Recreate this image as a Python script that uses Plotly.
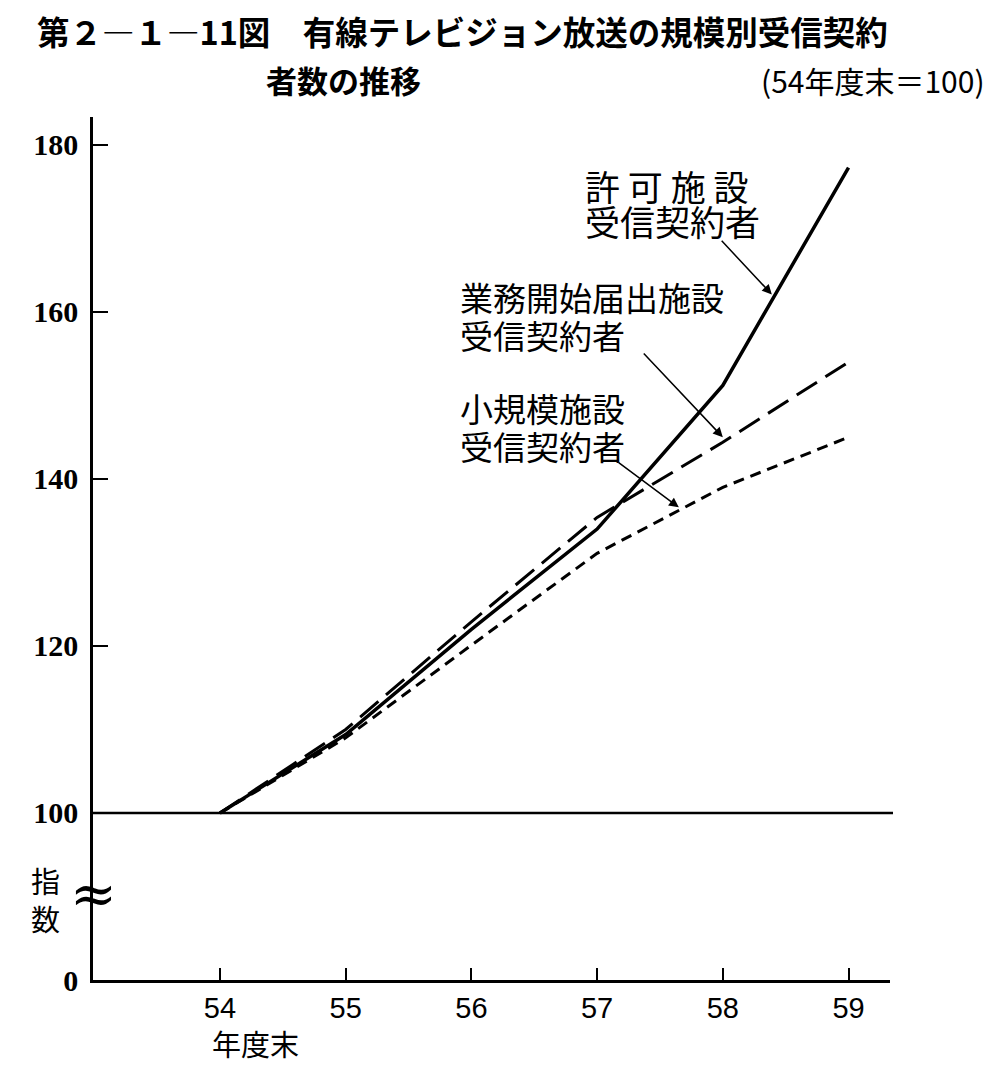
import plotly.graph_objects as go

# ---- data ----
years = [54, 55, 56, 57, 58, 59]
year_labels = ["54", "55", "56", "57", "58", "59"]
kyoka = [100, 109.4, 122.0, 134.0, 151.2, 177.3]      # 許可施設受信契約者
gyomu = [100, 110.0, 122.9, 135.4, 144.4, 154.0]      # 業務開始届出施設受信契約者
shokibo = [100, 109.0, 120.1, 131.1, 139.0, 145.0]    # 小規模施設受信契約者
y_tickvals = [80, 100, 120, 140, 160, 180]
y_ticktext = ["0", "100", "120", "140", "160", "180"]

OFF = 8  # page body margin
W, H = 1001 - OFF, 1069 - OFF
L, R, T, B = 93, 890, 117, 980   # plot area in reference pixels

def px(xp):
    return (xp - L) / (R - L)

def py(yp):
    return (B - yp) / (B - T)

JP = "Noto Sans CJK JP"

fig = go.Figure()
fig.add_trace(go.Scatter(x=years, y=kyoka, mode="lines",
                         line=dict(color="black", width=3.5), showlegend=False))
fig.add_trace(go.Scatter(x=years, y=gyomu, mode="lines",
                         line=dict(color="black", width=3, dash="24px,10px"), showlegend=False))
fig.add_trace(go.Scatter(x=years, y=shokibo, mode="lines",
                         line=dict(color="black", width=3, dash="11px,7px"), showlegend=False))

# baseline at 100
fig.add_shape(type="line", xref="paper", yref="y", x0=0, x1=px(893), y0=100, y1=100,
              line=dict(color="black", width=2.5))

ann = []
# title
ann.append(dict(text="<b>第２―１―11図　有線テレビジョン放送の規模別受信契約</b>", x=px(35), y=py(30),
                xanchor="left", yanchor="middle", font=dict(family=JP, size=32.5, color="black")))
ann.append(dict(text="<b>者数の推移</b>", x=px(264), y=py(80),
                xanchor="left", yanchor="middle", font=dict(family=JP, size=31, color="black")))
ann.append(dict(text="(54年度末＝100)", x=px(987), y=py(80),
                xanchor="right", yanchor="middle", font=dict(family=JP, size=30, color="black")))
# series labels (one annotation per line)
labels = [("許 可 施 設", 583, 185, 35), ("受信契約者", 583, 221, 35),
          ("業務開始届出施設", 458, 297, 33), ("受信契約者", 458, 335, 33),
          ("小規模施設", 458, 408, 33), ("受信契約者", 458, 446, 33)]
for txt, xx, yy, sz in labels:
    ann.append(dict(text=txt, x=px(xx), y=py(yy), xanchor="left", yanchor="middle",
                    font=dict(family=JP, size=sz, color="black")))
# axis labels
ann.append(dict(text="指", x=px(45), y=py(880), xanchor="center", yanchor="middle",
                font=dict(family=JP, size=29, color="black")))
ann.append(dict(text="数", x=px(45), y=py(918), xanchor="center", yanchor="middle",
                font=dict(family=JP, size=29, color="black")))
ann.append(dict(text="≈", x=px(93), y=py(893), xanchor="center", yanchor="middle",
                font=dict(family="DejaVu Serif", size=56, color="black")))
ann.append(dict(text="年度末", x=px(255), y=py(1043), xanchor="center", yanchor="middle",
                font=dict(family=JP, size=29, color="black")))
for a in ann:
    a.update(xref="paper", yref="paper", showarrow=False)

# arrows (head, tail in data coords)
arrows = [((58.39, 162.1), (57.98, 168.7)),
          ((58.00, 145.0), (57.36, 155.2)),
          ((57.65, 136.6), (57.16, 142.1))]
for (hx, hy), (tx, ty) in arrows:
    ann.append(dict(x=hx, y=hy, ax=tx, ay=ty, xref="x", yref="y", axref="x", ayref="y",
                    text="", showarrow=True, arrowhead=2, arrowsize=1.3, arrowwidth=1.5,
                    arrowcolor="black"))

fig.update_layout(
    width=W, height=H,
    margin=dict(l=L - OFF, r=W - (R - OFF), t=T - OFF, b=H - (B - OFF)),
    paper_bgcolor="white", plot_bgcolor="white",
    annotations=ann,
    xaxis=dict(range=[52.99, 59.33], tickvals=years, ticktext=year_labels,
               showgrid=False, zeroline=False, showline=True, linecolor="black", linewidth=2.5,
               ticks="inside", ticklen=12, tickwidth=1.5, tickcolor="black",
               tickfont=dict(family="Liberation Sans", size=29, color="black")),
    yaxis=dict(range=[80, 183.35], tickvals=y_tickvals, ticktext=y_ticktext,
               showgrid=False, zeroline=False, showline=True, linecolor="black", linewidth=2.5,
               ticks="inside", ticklen=15, tickwidth=1.5, tickcolor="black", ticklabelstandoff=6,
               tickfont=dict(family="Liberation Serif", size=30, color="black", weight="bold")),
)

fig.write_html("out.html")
